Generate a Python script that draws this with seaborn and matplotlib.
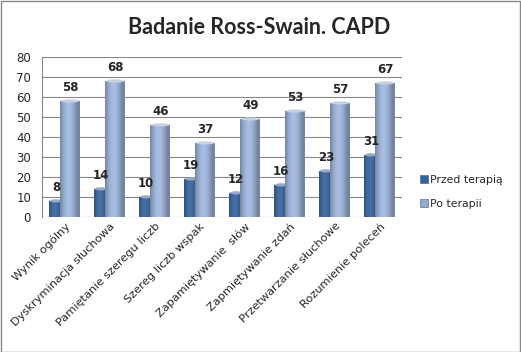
import matplotlib
matplotlib.use("Agg")
import matplotlib.pyplot as plt
import seaborn as sns
import pandas as pd
import numpy as np
from matplotlib.lines import Line2D
from matplotlib.patches import Ellipse, Rectangle

categories = ["Wynik ogólny", "Dyskryminacja słuchowa", "Pamiętanie szeregu liczb",
              "Szereg liczb wspak", "Zapamiętywanie  słów", "Zapmiętywanie zdań",
              "Przetwarzanie słuchowe", "Rozumienie poleceń"]
przed = [8, 14, 10, 19, 12, 16, 23, 31]
po = [58, 68, 46, 37, 49, 53, 57, 67]
series = ["Przed terapią", "Po terapii"]
yticks = [0, 10, 20, 30, 40, 50, 60, 70, 80]

df = pd.DataFrame({
    "cat": categories * 2,
    "val": przed + po,
    "series": [series[0]] * len(categories) + [series[1]] * len(categories),
})

sns.set_style("white")
plt.rcParams['font.family'] = ['DejaVu Sans']

fig = plt.figure(figsize=(5.21, 3.52), dpi=100)
ax = fig.add_axes([0.081, 0.384, 0.691, 0.454])
colors = {"Przed terapią": "#2f64a8", "Po terapii": "#8ea9d8"}
sns.barplot(data=df, x="cat", y="val", hue="series", palette=colors, width=0.72,
            ax=ax, legend=False, edgecolor="none")

# overlapping layout like the Excel 3D cylinders
for i, p in enumerate(ax.containers[0]):
    p.set_x(i - 0.344)
    p.set_width(0.3)
    p.set_zorder(2)
for i, p in enumerate(ax.containers[1]):
    p.set_x(i - 0.1)
    p.set_width(0.444)
    p.set_zorder(3)

# gradient shading and light top cap for a cylinder look
for p in list(ax.patches):
    x0, y0 = p.get_x(), p.get_y()
    w, h = p.get_width(), p.get_height()
    if h <= 0:
        continue
    z = p.get_zorder()
    fc = np.array(matplotlib.colors.to_rgb(p.get_facecolor()))
    xs = np.linspace(0, 1, 60)
    shade = 0.78 + 0.32 * np.sin(np.pi * np.clip(xs * 1.15, 0, 1))
    img = np.clip(fc[None, :] * shade[:, None], 0, 1)[None, :, :]
    im = ax.imshow(img, extent=[x0, x0 + w, y0, y0 + h], aspect="auto",
                   zorder=z + 0.1, interpolation="bilinear")
    im.set_clip_path(p)
    cap = np.clip(fc + (1 - fc) * 0.45, 0, 1)
    ax.add_patch(Ellipse((x0 + w / 2, y0 + h), w * 0.92, 1.6, facecolor=cap,
                         edgecolor="none", zorder=z + 0.2))

ax.set_xlim(-0.5, len(categories) - 0.5)
ax.set_ylim(0, 80)
ax.set_yticks(yticks)
ax.set_yticklabels([str(t) for t in yticks], fontsize=8.5)
ax.yaxis.grid(True, color="#888888", linewidth=0.8)
ax.set_axisbelow(True)
ax.set_xlabel("")
ax.set_ylabel("")
ax.tick_params(axis="y", length=0, pad=8)
ax.tick_params(axis="x", length=0, pad=3)
ax.set_xticks(range(len(categories)))
ax.set_xticklabels(categories, rotation=45, ha="right", rotation_mode="anchor", fontsize=8.2)
for s in ["top", "right", "bottom"]:
    ax.spines[s].set_visible(False)
ax.spines["left"].set_color("#888888")
ax.spines["left"].set_linewidth(0.8)

# value labels
for c in ax.containers:
    for t in ax.bar_label(c, fontsize=8.5, fontweight="bold", padding=5):
        t.set_zorder(10)

fig.text(0.497, 0.922, "Badanie Ross-Swain. CAPD", ha="center", va="center",
         fontsize=15.5, fontweight="bold", family="Lato")

# legend
handles = [Line2D([], [], marker="s", linestyle="none", markersize=5.5,
                  markerfacecolor=colors[s], markeredgecolor="#555555", markeredgewidth=0.4)
           for s in series]
fig.legend(handles, series, loc="center left", bbox_to_anchor=(0.795, 0.455),
           frameon=False, fontsize=7.8, handletextpad=0.1, labelspacing=1.3,
           borderaxespad=0, handlelength=1.0)

# figure border
fig.patches.append(Rectangle((0.001, 0.001), 0.997, 0.997,
                   transform=fig.transFigure, fill=False, edgecolor="#888888", linewidth=1))

fig.savefig("out.png", dpi=100)
